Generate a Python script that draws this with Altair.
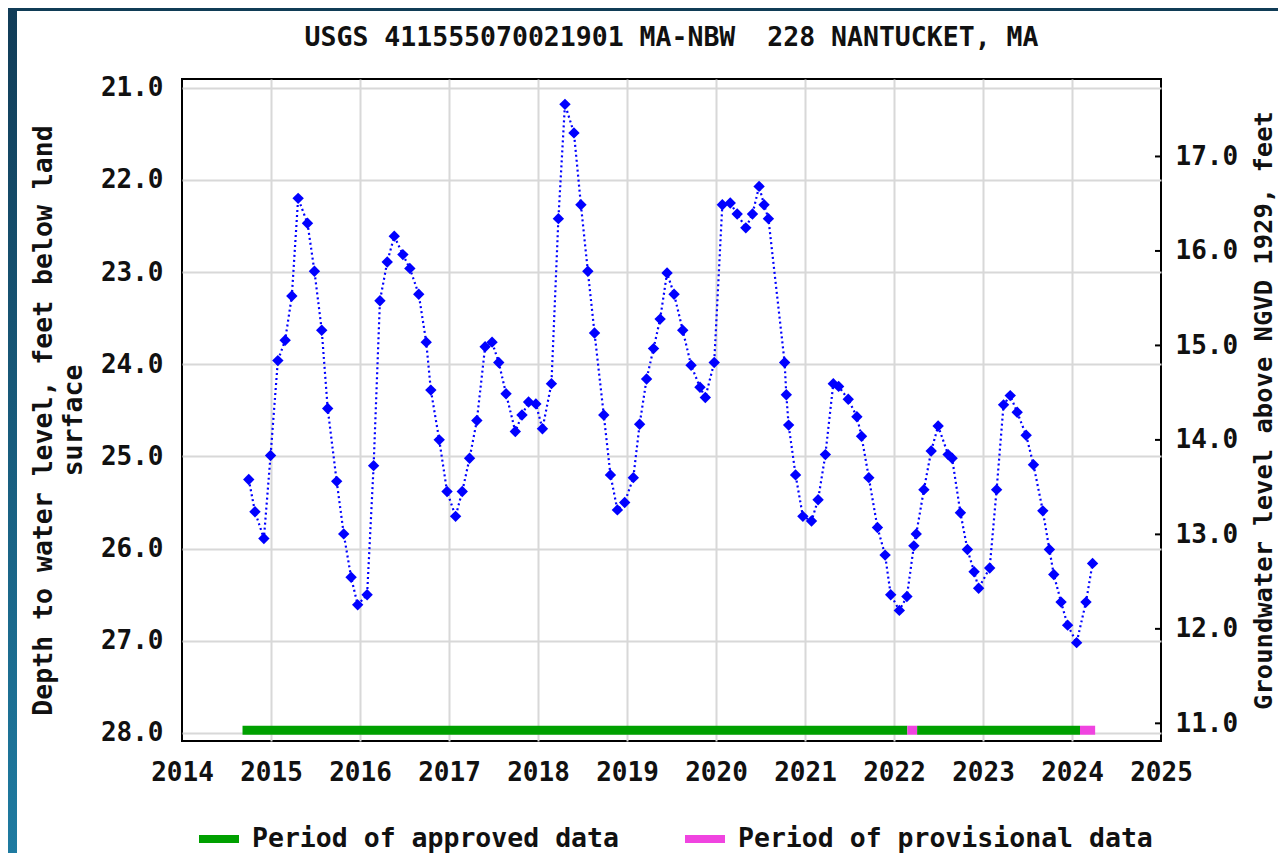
import altair as alt
import pandas as pd

# ---------------- data ----------------
years = [
    2014.75, 2014.82, 2014.92, 2014.995, 2015.077, 2015.159, 2015.234, 2015.305,
    2015.41, 2015.488, 2015.57, 2015.637, 2015.738, 2015.817, 2015.90, 2015.974,
    2016.08, 2016.153, 2016.224, 2016.306, 2016.385, 2016.482, 2016.56, 2016.66,
    2016.744, 2016.796, 2016.89, 2016.978, 2017.074, 2017.149, 2017.231, 2017.313,
    2017.406, 2017.484, 2017.559, 2017.641, 2017.745, 2017.82, 2017.894, 2017.976,
    2018.05, 2018.151, 2018.229, 2018.303, 2018.404, 2018.482, 2018.56, 2018.635,
    2018.739, 2018.814, 2018.892, 2018.974, 2019.071, 2019.142, 2019.22, 2019.298,
    2019.372, 2019.45, 2019.529, 2019.626, 2019.72, 2019.82, 2019.88, 2019.98,
    2020.071, 2020.16, 2020.238, 2020.335, 2020.41, 2020.484, 2020.54, 2020.589,
    2020.771, 2020.79, 2020.816, 2020.894, 2020.976, 2021.073, 2021.147, 2021.229,
    2021.318, 2021.378, 2021.486, 2021.583, 2021.635, 2021.717, 2021.814, 2021.90,
    2021.963, 2022.06, 2022.145, 2022.223, 2022.25, 2022.336, 2022.418, 2022.496,
    2022.608, 2022.653, 2022.746, 2022.825, 2022.90, 2022.951, 2023.075, 2023.153,
    2023.231, 2023.306, 2023.384, 2023.485, 2023.567, 2023.672, 2023.746, 2023.795,
    2023.877, 2023.951, 2024.052, 2024.157, 2024.231,
]
depths = [
    25.25, 25.60, 25.89, 24.99, 23.96, 23.74, 23.26, 22.20,
    22.47, 22.99, 23.63, 24.48, 25.27, 25.84, 26.31, 26.61,
    26.50, 25.10, 23.31, 22.89, 22.61, 22.81, 22.96, 23.24,
    23.76, 24.28, 24.82, 25.38, 25.65, 25.38, 25.02, 24.61,
    23.81, 23.76, 23.98, 24.32, 24.73, 24.55, 24.41, 24.43,
    24.70, 24.21, 22.42, 21.18, 21.49, 22.27, 22.99, 23.66,
    24.55, 25.20, 25.58, 25.50, 25.23, 24.65, 24.16, 23.83,
    23.51, 23.01, 23.24, 23.63, 24.01, 24.25, 24.36, 23.98,
    22.27, 22.25, 22.37, 22.52, 22.37, 22.07, 22.27, 22.42,
    23.98, 24.33, 24.66, 25.20, 25.65, 25.70, 25.47, 24.98,
    24.21, 24.24, 24.38, 24.57, 24.78, 25.23, 25.77, 26.07,
    26.50, 26.67, 26.52, 25.97, 25.84, 25.36, 24.94, 24.67,
    24.98, 25.02, 25.61, 26.01, 26.25, 26.43, 26.21, 25.36,
    24.44, 24.34, 24.52, 24.77, 25.09, 25.59, 26.01, 26.28,
    26.58, 26.83, 27.02, 26.58, 26.16,
]

period_start = [2014.68, 2022.15, 2022.26, 2024.09]
period_end = [2022.15, 2022.26, 2024.09, 2024.26]
period_status = [
    "Period of approved data",
    "Period of provisional data",
    "Period of approved data",
    "Period of provisional data",
]
period_names = ["Period of approved data", "Period of provisional data"]
period_colors = ["#00a000", "#f044e0"]
period_level = 27.97          # depth at which the approval bar is drawn

year_ticks = list(range(2014, 2026))
depth_ticks = [21, 22, 23, 24, 25, 26, 27, 28]
elev_ticks = [11, 12, 13, 14, 15, 16, 17]

TITLE = "USGS 411555070021901 MA-NBW\u00a0 228 NANTUCKET, MA"
LEFT_TITLE = ["Depth to water level, feet below land", "surface"]
RIGHT_TITLE = "Groundwater level above NGVD 1929, feet"

FONT = "DejaVu Sans Mono"
INK = "#111111"
BLUE = "#0000ff"

# ---------------- tables ----------------
levels = pd.DataFrame({"year": years, "depth": depths})
periods = pd.DataFrame({"start": period_start, "end": period_end, "status": period_status})
elev_table = pd.DataFrame({"elev": elev_ticks})
deco = pd.DataFrame({"k": [0]})

W, H = 979, 662
TICK = 6

x_scale = alt.Scale(domain=[2014, 2025], nice=False, zero=False)
y_scale = alt.Scale(domain=[20.905, 28.087], reverse=True, nice=False, zero=False)
e_scale = alt.Scale(domain=[10.813, 17.82], nice=False, zero=False)

x_axis = alt.Axis(
    values=year_ticks, format="d", title=None, grid=True, ticks=False, tickSize=0,
    domain=False, labelPadding=39, labelBaseline="alphabetic", labelFontSize=26,
    labelFlush=False, labelOverlap=False,
    gridOpacity={"condition": {"test": "datum.value == 2014 || datum.value == 2025", "value": 0}, "value": 1},
)
y_axis = alt.Axis(
    orient="left", values=depth_ticks, format=".1f", grid=True, ticks=False, tickSize=0,
    domain=False, labelPadding=19, labelFontSize=26, labelFlush=False, labelOverlap=False,
    title=LEFT_TITLE, titleFontSize=26.5, titleLineHeight=30, titleAngle=270,
    titleX=-139, titleY=341, titleBaseline="middle", titleAlign="center",
)
e_axis = alt.Axis(
    orient="right", values=elev_ticks, format=".1f", grid=False, domain=False,
    ticks=False, tickSize=0, labelPadding=14, labelFontSize=26,
    labelFlush=False, labelOverlap=False,
    title=RIGHT_TITLE, titleFontSize=25.5, titleAngle=270,
    titleX=102, titleY=331, titleBaseline="middle", titleAlign="center",
)

line = alt.Chart(levels).mark_line(
    color=BLUE, strokeDash=[2, 3], strokeWidth=2.2
).encode(
    x=alt.X("year:Q", scale=x_scale, axis=x_axis),
    y=alt.Y("depth:Q", scale=y_scale, axis=y_axis),
)

bars = alt.Chart(periods).mark_rule(strokeWidth=9, strokeCap="butt").encode(
    x="start:Q",
    x2="end:Q",
    y=alt.datum(period_level),
    color=alt.Color(
        "status:N",
        scale=alt.Scale(domain=period_names, range=period_colors),
        legend=alt.Legend(
            title=None, orient="none", legendX=13, legendY=736, direction="horizontal",
            columns=2, symbolType="stroke", symbolSize=1600, symbolStrokeWidth=8,
            labelFont=FONT, labelFontSize=26.5, labelFontWeight="bold", labelColor=INK,
            labelOffset=9, labelLimit=0, columnPadding=50, padding=0,
        ),
    ),
)

points = alt.Chart(levels).mark_point(
    shape="diamond", filled=True, size=130, color=BLUE, opacity=1
).encode(x="year:Q", y="depth:Q")

inner = alt.layer(line, bars, points)

# right-hand elevation axis, with its short inward tick marks
right = alt.Chart(elev_table).mark_rule(color="#000000", strokeWidth=2).encode(
    y=alt.Y("elev:Q", scale=e_scale, axis=e_axis),
    x=alt.value(W - TICK),
    x2=alt.value(W),
)

# decorative dark frame of the page
top_strip = alt.Chart(deco).mark_rect(color="#103c56").encode(
    x=alt.value(-174), x2=alt.value(1096), y=alt.value(-71), y2=alt.value(-68)
)
left_strip = alt.Chart(deco).mark_rect(
    color=alt.LinearGradient(
        gradient="linear",
        stops=[alt.GradientStop(color="#113c57", offset=0),
               alt.GradientStop(color="#1f7ca2", offset=1)],
        x1=0, x2=0, y1=0, y2=1,
    )
).encode(x=alt.value(-174), x2=alt.value(-165), y=alt.value(-71), y2=alt.value(790))

chart = alt.layer(top_strip, left_strip, inner, right).resolve_scale(
    y="independent"
).properties(
    width=W,
    height=H,
    padding={"left": 174, "top": 71, "right": 117, "bottom": 112},
    autosize=alt.AutoSizeParams(type="none"),
    background="white",
    title=alt.Title(
        TITLE, font=FONT, fontSize=26.5, fontWeight="bold", color=INK,
        anchor="middle", baseline="alphabetic", offset=-64, frame="group",
    ),
).configure_view(
    stroke="#000000", strokeWidth=2
).configure_axis(
    labelFont=FONT, labelFontWeight="bold", labelColor=INK,
    titleFont=FONT, titleFontWeight="bold", titleColor=INK,
    gridColor="#d8d8d8", gridWidth=2,
)

chart.save("out.html", embed_options={"renderer": "svg", "actions": False})
